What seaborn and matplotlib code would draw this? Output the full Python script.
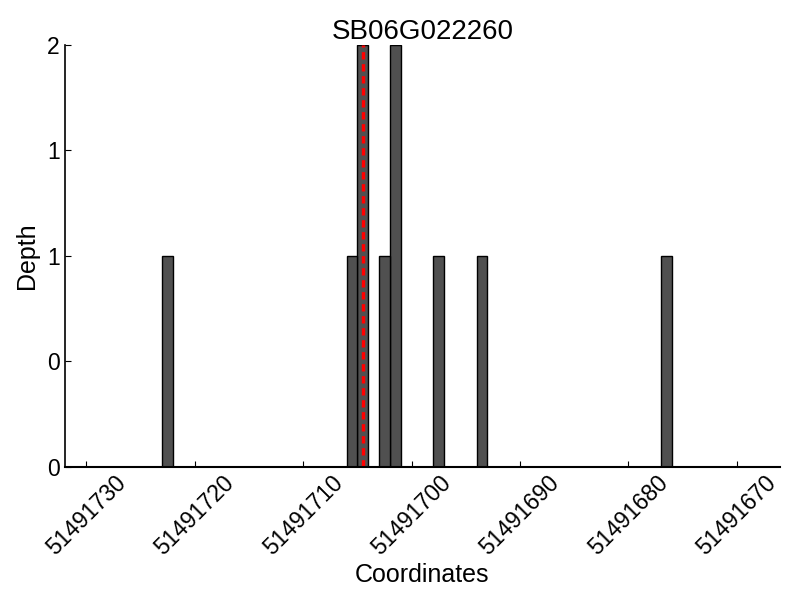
import numpy as np
import pandas as pd
import matplotlib
matplotlib.use("Agg")
import matplotlib.pyplot as plt
import seaborn as sns
from matplotlib.ticker import FormatStrFormatter

# Data
gene = "SB06G022260"
positions = [51491722, 51491705, 51491704, 51491702, 51491701, 51491697, 51491693, 51491676]
depth = [1, 1, 2, 1, 2, 1, 1, 1]
snp_pos = 51491704.5
x_ticks = [51491730, 51491720, 51491710, 51491700, 51491690, 51491680, 51491670]

df = pd.DataFrame({"pos": positions, "depth": depth})

sns.set_style("ticks", {
    "text.color": "black",
    "axes.labelcolor": "black",
    "axes.edgecolor": "black",
    "xtick.color": "black",
    "ytick.color": "black",
})
plt.rcParams["font.family"] = ["Liberation Sans", "DejaVu Sans"]

fig = plt.figure(figsize=(8, 6), dpi=100)
ax = fig.add_axes([0.081, 0.222, 0.894, 0.703])

# one bin per base
sns.histplot(
    data=df,
    x="pos",
    weights="depth",
    binwidth=1,
    binrange=(min(positions), max(positions) + 1),
    color="#505050",
    edgecolor="black",
    linewidth=1,
    alpha=1,
    ax=ax
)

ax.axvline(snp_pos, color="red", linestyle="--", linewidth=2.4, dashes=(2.2, 1.4))

ax.set_xlim(51491732, 51491666)
ax.set_ylim(0, 2)
ax.set_xticks(x_ticks)
ax.set_xticklabels([str(t) for t in x_ticks], rotation=45, fontsize=16.5)
ax.set_yticks([0, 0.5, 1, 1.5, 2])
ax.yaxis.set_major_formatter(FormatStrFormatter("%d"))
ax.tick_params(axis="y", labelsize=16.5)
ax.tick_params(direction="in", length=4, width=0.8)

ax.set_title(gene, fontsize=20, pad=3)
ax.set_xlabel("Coordinates", fontsize=18, labelpad=2)
ax.set_ylabel("Depth", fontsize=18, labelpad=6)

sns.despine(ax=ax)
ax.spines["bottom"].set_linewidth(1.5)
ax.spines["left"].set_linewidth(1.2)

plt.savefig("out.png", dpi=100)
